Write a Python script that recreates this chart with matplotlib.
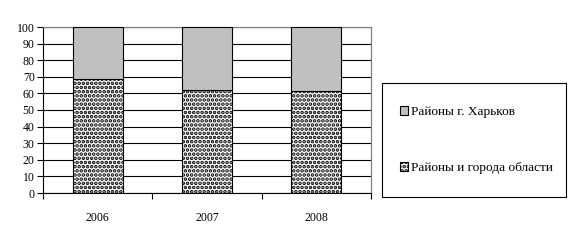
import matplotlib.pyplot as plt
from matplotlib.patches import Rectangle
import numpy as np

plt.rcParams['font.family'] = ['Liberation Serif', 'DejaVu Serif']
plt.rcParams['hatch.linewidth'] = 1.8

years = ['2006', '2007', '2008']
region = [68.5, 61.8, 61.6]        # Районы и города области
kharkiv = [31.5, 38.2, 38.4]       # Районы г. Харьков

fig = plt.figure(figsize=(5.7, 2.4), dpi=100)
ax = fig.add_axes([43 / 570, 1 - 193 / 240, 328 / 570, 166 / 240])

x = np.arange(len(years))
b1 = ax.bar(x, region, width=0.46, color='white', edgecolor='black',
            hatch='....', linewidth=0.8, zorder=3,
            label='Районы и города области')
b2 = ax.bar(x, kharkiv, bottom=region, width=0.46, color='#c0c0c0',
            edgecolor='black', linewidth=0.8, zorder=3,
            label='Районы г. Харьков')

ax.set_xlim(-0.5, 2.5)
ax.set_ylim(0, 100)
ax.set_yticks(range(0, 101, 10))
ax.yaxis.grid(True, color='black', linewidth=0.8, zorder=0)
ax.set_xticks(x)
ax.set_xticklabels(years)
ax.set_xticks([-0.5, 0.5, 1.5, 2.5], minor=True)
ax.tick_params(axis='x', which='major', length=0, pad=14, labelsize=8.5)
ax.tick_params(axis='x', which='minor', length=4, width=0.8, direction='out')
ax.tick_params(axis='y', length=4, width=0.8, labelsize=8.5, pad=2)

for s in ['top', 'right']:
    ax.spines[s].set_color('#808080')
    ax.spines[s].set_linewidth(0.9)
for s in ['left', 'bottom']:
    ax.spines[s].set_color('black')
    ax.spines[s].set_linewidth(0.8)

# legend frame
fig.patches.append(Rectangle((382 / 570, 1 - 197 / 240), 184 / 570, 114 / 240,
                             transform=fig.transFigure, fill=False,
                             edgecolor='black', linewidth=0.8))
leg = fig.legend([b2, b1], ['Районы г. Харьков', 'Районы и города области'],
                 loc='center left',
                 bbox_to_anchor=(400 / 570, 1 - 140 / 240),
                 fontsize=9.6, frameon=False,
                 handlelength=0.6, handleheight=0.6,
                 handletextpad=0.2, labelspacing=3.3, borderpad=0,
                 borderaxespad=0)

fig.savefig('out.png', dpi=100)
